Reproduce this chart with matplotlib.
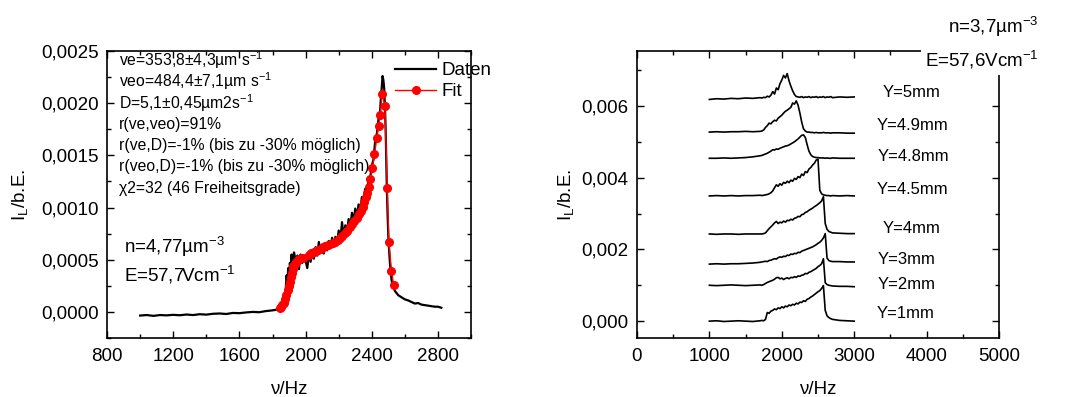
import numpy as np
import matplotlib
matplotlib.use("Agg")
import matplotlib.pyplot as plt
from matplotlib.ticker import MultipleLocator, FuncFormatter

plt.rcParams['font.family'] = ['Liberation Sans', 'DejaVu Sans']
plt.rcParams['mathtext.fontset'] = 'custom'
plt.rcParams['mathtext.rm'] = 'Liberation Sans'
plt.rcParams['mathtext.it'] = 'Liberation Sans:italic'
plt.rcParams['mathtext.default'] = 'regular'

# ---- left panel: measured spectrum + fit ----
daten_hz = [1000, 1040, 1080, 1120, 1160, 1200, 1240, 1280, 1320, 1360, 1400, 1440, 1480,
            1520, 1560, 1600, 1640, 1680, 1720, 1760, 1800, 1820, 1840,
            1850, 1860, 1870, 1880, 1885, 1890, 1895, 1900, 1905, 1910, 1915, 1920, 1925,
            1930, 1940, 1950, 1960, 1965, 1970, 1980, 1990, 2000, 2010, 2020, 2030, 2040,
            2050, 2060, 2070, 2080, 2090, 2100, 2110, 2120, 2130, 2140, 2150, 2160, 2170,
            2180, 2190, 2200, 2210, 2220, 2230, 2240, 2250, 2260, 2270, 2280, 2290, 2300,
            2310, 2320, 2330, 2340, 2350, 2360, 2370, 2380, 2390, 2400, 2410, 2420, 2430,
            2440, 2450, 2455, 2460, 2465, 2470, 2475, 2480, 2485, 2490, 2495, 2500, 2505,
            2510, 2515, 2520, 2530, 2540, 2560, 2580, 2600, 2620, 2640, 2660, 2680, 2700,
            2720, 2740, 2760, 2780, 2800, 2820]
daten_val = [-0.000035, -0.00003, -0.000038, -0.00003, -0.000033, -0.000028, -0.000032,
             -0.000025, -0.00003, -0.000022, -0.000026, -0.000018, -0.000015, -0.00002,
             -0.00001, -0.000012, -0.000005, 0.0, -0.000003, 0.000008, 0.000015, 0.00002,
             0.00004,
             0.00005, 0.00008, 0.00014, 0.00022, 0.00035, 0.00028, 0.00042, 0.00033,
             0.00047, 0.00038, 0.00055, 0.00045, 0.00052, 0.00057, 0.00049, 0.00054,
             0.00041, 0.00050, 0.00055, 0.00047, 0.00053, 0.00049, 0.00042, 0.00056,
             0.00048, 0.00058, 0.00051, 0.00062, 0.00054, 0.00067, 0.00057, 0.00063,
             0.00056, 0.00066, 0.00059, 0.00068, 0.00061, 0.00071, 0.00063, 0.00072,
             0.00066, 0.00078, 0.00069, 0.00086, 0.00072, 0.00083, 0.00077, 0.00089,
             0.00081, 0.00095, 0.00086, 0.00099, 0.00091, 0.00103, 0.00097, 0.00110,
             0.00104, 0.00118, 0.00114, 0.00126, 0.00128, 0.00140, 0.00146, 0.00163,
             0.00170, 0.00184, 0.00192, 0.00205, 0.00215, 0.00226, 0.00222, 0.00214,
             0.00195, 0.00165, 0.00125, 0.00095, 0.00072, 0.00058, 0.00046, 0.00037,
             0.00030, 0.00024, 0.00020, 0.00016, 0.00014, 0.00012, 0.00011, 0.000095,
             0.00008, 0.000085, 0.00007, 0.000065, 0.00006, 0.000055, 0.00005, 0.00005,
             0.00004]

fit_hz = [1845, 1852, 1860, 1868, 1876, 1884, 1891, 1897, 1903, 1910, 1917, 1922, 1926,
          1934, 1942, 1952, 1961, 1972, 1984, 2023, 2035, 2048, 2062, 2076, 2090, 2105,
          2120, 2135, 2150, 2165, 2179, 2194, 2208, 2222, 2237, 2251, 2266, 2280, 2295,
          2308, 2320, 2332, 2344, 2354, 2364, 2373, 2383, 2392, 2404, 2416, 2431, 2441,
          2451, 2462, 2480, 2493, 2503, 2519, 2532]
fit_val = [0.00004, 0.00005, 0.00007, 0.00009, 0.00012, 0.00016, 0.00021, 0.00025, 0.00029,
           0.00033, 0.00037, 0.00041, 0.00044, 0.00046, 0.00048, 0.0005, 0.00051, 0.00052,
           0.00052, 0.00055, 0.00056, 0.00057, 0.00058, 0.00059, 0.0006, 0.00062, 0.00063,
           0.00064, 0.00065, 0.00066, 0.00067, 0.00069, 0.00071, 0.00073, 0.00076, 0.00078,
           0.00081, 0.00084, 0.00087, 0.0009, 0.00094, 0.00097, 0.00101, 0.00105, 0.0011,
           0.00114, 0.0012, 0.00127, 0.00138, 0.00151, 0.00167, 0.00178, 0.00189, 0.00209,
           0.00197, 0.00119, 0.00067, 0.00039, 0.00026]

fit_info = ["ve=353,8±4,3µm s$^{-1}$",
            "veo=484,4±7,1µm s$^{-1}$",
            "D=5,1±0,45µm2s$^{-1}$",
            "r(ve,veo)=91%",
            "r(ve,D)=-1% (bis zu -30% möglich)",
            "r(veo,D)=-1% (bis zu -30% möglich)",
            "χ2=32 (46 Freiheitsgrade)"]

# ---- right panel: spectra at several Y positions (values in 1e-3 b.E.) ----
hz_r = [1000, 1100, 1200, 1300, 1400, 1500, 1600, 1700,
        1725, 1750, 1775, 1800, 1825, 1850, 1875, 1900, 1925, 1950,
        1975, 2000, 2025, 2050, 2075, 2100, 2125, 2150, 2175, 2200,
        2225, 2250, 2275, 2300, 2325, 2350, 2375, 2400, 2425, 2450,
        2475, 2500, 2525, 2550, 2575, 2600, 2625, 2650, 2675, 2700,
        2800, 2900, 3000]

y1mm = [0.00, 0.01, -0.01, 0.00, 0.01, 0.00, -0.01, 0.01,
        0.02, 0.01, 0.05, 0.24, 0.22, 0.28, 0.30, 0.34, 0.32, 0.37,
        0.35, 0.40, 0.37, 0.42, 0.40, 0.45, 0.43, 0.47, 0.45, 0.50,
        0.48, 0.53, 0.52, 0.57, 0.55, 0.61, 0.63, 0.67, 0.70, 0.74,
        0.78, 0.82, 0.85, 0.91, 0.99, 0.30, 0.15, 0.10, 0.07, 0.05,
        0.02, 0.01, 0.00]
y2mm = [1.00, 0.99, 1.00, 1.01, 1.00, 0.99, 1.00, 1.01,
        1.00, 1.02, 1.05, 1.08, 1.10, 1.12, 1.14, 1.17, 1.21, 1.22,
        1.18, 1.20, 1.16, 1.19, 1.21, 1.18, 1.22, 1.21, 1.24, 1.22,
        1.26, 1.25, 1.28, 1.29, 1.33, 1.32, 1.36, 1.38, 1.41, 1.44,
        1.47, 1.52, 1.55, 1.60, 1.74, 1.07, 1.02, 1.00, 0.99, 0.98,
        0.97, 0.97, 0.96]
y3mm = [1.59, 1.60, 1.59, 1.60, 1.60, 1.61, 1.62, 1.64,
        1.65, 1.66, 1.67, 1.66, 1.69, 1.70, 1.72, 1.74, 1.73, 1.77,
        1.79, 1.78, 1.81, 1.80, 1.84, 1.83, 1.87, 1.86, 1.89, 1.88,
        1.92, 1.91, 1.95, 1.97, 1.99, 2.01, 2.03, 2.05, 2.07, 2.10,
        2.13, 2.17, 2.20, 2.25, 2.32, 2.44, 1.76, 1.69, 1.67, 1.66,
        1.66, 1.65, 1.65]
y4mm = [2.43, 2.42, 2.43, 2.43, 2.42, 2.43, 2.43, 2.43,
        2.43, 2.44, 2.46, 2.52, 2.58, 2.63, 2.68, 2.74, 2.78, 2.72,
        2.76, 2.74, 2.79, 2.76, 2.81, 2.80, 2.84, 2.82, 2.87, 2.88,
        2.92, 2.91, 2.97, 2.98, 3.03, 3.05, 3.09, 3.12, 3.15, 3.19,
        3.22, 3.26, 3.30, 3.35, 3.47, 2.72, 2.56, 2.50, 2.48, 2.46,
        2.45, 2.44, 2.44]
y45mm = [3.49, 3.50, 3.49, 3.50, 3.49, 3.50, 3.50, 3.51,
         3.50, 3.51, 3.52, 3.53, 3.55, 3.58, 3.63, 3.72, 3.80, 3.76,
         3.83, 3.79, 3.87, 3.84, 3.90, 3.86, 3.93, 3.90, 3.98, 3.95,
         4.03, 4.00, 4.10, 4.06, 4.17, 4.14, 4.24, 4.28, 4.35, 4.40,
         4.49, 4.52, 3.65, 3.55, 3.52, 3.51, 3.50, 3.50, 3.49, 3.50,
         3.49, 3.50, 3.49]
y48mm = [4.54, 4.54, 4.55, 4.54, 4.55, 4.56, 4.58, 4.61,
         4.62, 4.64, 4.66, 4.68, 4.71, 4.74, 4.78, 4.77, 4.80, 4.79,
         4.82, 4.84, 4.86, 4.88, 4.89, 4.91, 4.94, 4.97, 5.00, 5.04,
         5.08, 5.13, 5.18, 5.19, 5.12, 4.92, 4.74, 4.64, 4.59, 4.57,
         4.56, 4.56, 4.55, 4.55, 4.55, 4.54, 4.55, 4.54, 4.54, 4.55,
         4.54, 4.54, 4.54]
y49mm = [5.27, 5.28, 5.27, 5.28, 5.28, 5.29, 5.28, 5.29,
         5.30, 5.33, 5.40, 5.45, 5.52, 5.50, 5.56, 5.60, 5.58, 5.66,
         5.70, 5.74, 5.80, 5.85, 5.88, 5.92, 5.96, 6.08, 6.05, 6.14,
         6.02, 5.80, 5.55, 5.36, 5.30, 5.27, 5.27, 5.26, 5.26, 5.25,
         5.26, 5.25, 5.25, 5.25, 5.26, 5.25, 5.25, 5.25, 5.24, 5.25,
         5.25, 5.24, 5.24]
y5mm = [6.18, 6.20, 6.19, 6.21, 6.20, 6.22, 6.21, 6.23,
        6.22, 6.24, 6.23, 6.27, 6.25, 6.30, 6.40, 6.33, 6.50, 6.45,
        6.62, 6.72, 6.85, 6.78, 6.90, 6.70, 6.55, 6.42, 6.32, 6.26,
        6.25, 6.24, 6.26, 6.23, 6.25, 6.24, 6.26, 6.23, 6.25, 6.24,
        6.26, 6.23, 6.25, 6.24, 6.26, 6.23, 6.25, 6.24, 6.26, 6.23,
        6.25, 6.24, 6.25]

kurven = [y1mm, y2mm, y3mm, y4mm, y45mm, y48mm, y49mm, y5mm]
kurven_labels = ["Y=1mm", "Y=2mm", "Y=3mm", "Y=4mm", "Y=4.5mm", "Y=4.8mm", "Y=4.9mm", "Y=5mm"]
label_x = [3310, 3330, 3330, 3390, 3310, 3330, 3310, 3400]
label_y = [0.0002, 0.00103, 0.00173, 0.00257, 0.00368, 0.00458, 0.00544, 0.00636]

FS = 13.5


def style_axes(ax):
    ax.tick_params(which='both', direction='in', top=True, right=True,
                   labelsize=FS, width=1)
    ax.tick_params(which='major', length=5)
    ax.tick_params(which='minor', length=3)
    ax.tick_params(axis='x', pad=7)
    ax.tick_params(axis='y', pad=6)
    for s in ax.spines.values():
        s.set_linewidth(1.2)


fig = plt.figure(figsize=(10.78, 3.97), dpi=100)
ax1 = fig.add_axes([0.0993, 0.1486, 0.3377, 0.7229])
ax2 = fig.add_axes([0.5909, 0.1486, 0.3358, 0.7229])

# left
ax1.plot(daten_hz, daten_val, color='black', linewidth=1.6, label='Daten', zorder=2)
ax1.plot(fit_hz, fit_val, color='red', linewidth=1, marker='o', markersize=5.5,
         label='Fit', zorder=3)
ax1.set_xlim(800, 3000)
ax1.set_ylim(-0.00025, 0.0025)
ax1.xaxis.set_major_locator(MultipleLocator(400))
ax1.xaxis.set_minor_locator(MultipleLocator(200))
ax1.yaxis.set_major_locator(MultipleLocator(0.0005))
ax1.yaxis.set_minor_locator(MultipleLocator(0.00025))
ax1.yaxis.set_major_formatter(FuncFormatter(lambda v, p: f"{v:.4f}".replace('.', ',')))
style_axes(ax1)
ax1.set_xlabel("ν/Hz", fontsize=FS, labelpad=12)
ax1.set_ylabel("I$_L$/b.E.", fontsize=FS, labelpad=8)

for i, line in enumerate(fit_info):
    ax1.text(0.033, 0.969 - i * 0.0745, line, transform=ax1.transAxes,
             fontsize=11.3, va='center', ha='left')
ax1.text(0.047, 0.317, "n=4,77µm$^{-3}$", transform=ax1.transAxes, fontsize=FS, va='center')
ax1.text(0.047, 0.22, "E=57,7Vcm$^{-1}$", transform=ax1.transAxes, fontsize=FS, va='center')

leg = ax1.legend(loc='upper left', bbox_to_anchor=(0.76, 1.0), frameon=False,
                 fontsize=FS, handlelength=2.2, handletextpad=0.3, labelspacing=0.2,
                 borderaxespad=0.2, numpoints=1)
leg.set_zorder(5)

# right
for vals in kurven:
    ax2.plot(hz_r, np.array(vals) * 1e-3, color='black', linewidth=1.2)
for lab, lx, ly in zip(kurven_labels, label_x, label_y):
    ax2.text(lx, ly, lab, fontsize=12, va='center', ha='left')
ax2.set_xlim(0, 5000)
ax2.set_ylim(-0.00047, 0.00753)
ax2.xaxis.set_major_locator(MultipleLocator(1000))
ax2.xaxis.set_minor_locator(MultipleLocator(500))
ax2.yaxis.set_major_locator(MultipleLocator(0.002))
ax2.yaxis.set_minor_locator(MultipleLocator(0.001))
ax2.yaxis.set_major_formatter(FuncFormatter(lambda v, p: f"{v:.3f}".replace('.', ',')))
style_axes(ax2)
ax2.set_xlabel("ν/Hz", fontsize=FS, labelpad=12)
ax2.set_ylabel("I$_L$/b.E.", fontsize=FS, labelpad=4)

fig.text(0.879, 0.932, "n=3,7µm$^{-3}$", fontsize=FS, va='center', ha='left')
fig.text(0.858, 0.849, "E=57,6Vcm$^{-1}$", fontsize=FS, va='center', ha='left',
         bbox=dict(facecolor='white', edgecolor='none', pad=3))

fig.savefig("out.png", dpi=100)
